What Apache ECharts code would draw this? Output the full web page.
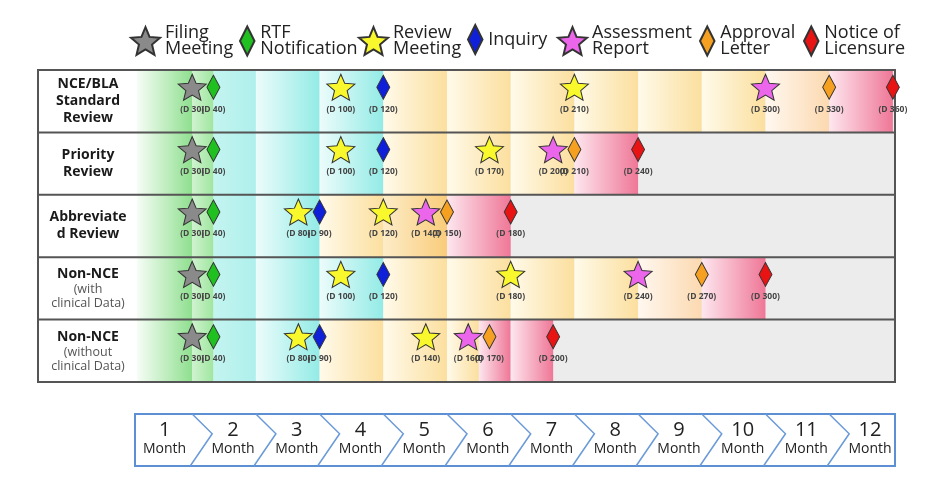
<!DOCTYPE html>
<html><head><meta charset="utf-8">
<script src="https://cdn.jsdelivr.net/npm/echarts@6/dist/echarts.min.js"></script>
<style>html,body{margin:0;padding:0;background:#fff}#c{width:936px;height:492px}</style>
</head><body><div id="c"></div>
<script>
// ---------------- data ----------------
const rowTitles = ['NCE/BLA\nStandard\nReview', 'Priority\nReview', 'Abbreviate\nd Review', 'Non-NCE', 'Non-NCE'];
const rowNotes  = ['', '', '', '(with\nclinical Data)', '(without\nclinical Data)'];

const milestoneNames = ['Filing\nMeeting', 'RTF\nNotification', 'Review\nMeeting', 'Inquiry', 'Assessment\nReport', 'Approval\nLetter', 'Notice of\nLicensure'];

// [day, row]
const filingMeeting     = [[30,0],[30,1],[30,2],[30,3],[30,4]];
const rtfNotification   = [[40,0],[40,1],[40,2],[40,3],[40,4]];
const reviewMeeting     = [[100,0],[210,0],[100,1],[170,1],[80,2],[120,2],[100,3],[180,3],[80,4],[140,4]];
const inquiry           = [[120,0],[120,1],[90,2],[120,3],[90,4]];
const assessmentReport  = [[300,0],[200,1],[140,2],[240,3],[160,4]];
const approvalLetter    = [[330,0],[210,1],[150,2],[270,3],[170,4]];
const noticeLicensure   = [[360,0],[240,1],[180,2],[300,3],[200,4]];

// background phase stripes per row (day boundaries) and their phase kind
const phaseBounds = [
  [0,30,40,60,90,120,150,180,210,240,270,300,330,360],
  [0,30,40,60,90,120,150,180,210,240],
  [0,30,40,60,90,120,150,180],
  [0,30,40,60,90,120,150,180,210,240,270,300],
  [0,30,40,60,90,120,150,165,180,200]
];
const phaseKinds = [
  ['filing','rtf','early','review','review','assess','assess','assess','assess','assess','assess','approval','notice'],
  ['filing','rtf','early','review','review','assess','assess','assess','notice'],
  ['filing','rtf','early','review','assess','approval2','notice'],
  ['filing','rtf','early','review','review','assess','assess','assess','assess','approval','notice'],
  ['filing','rtf','early','review','assess','assess','assess','notice','notice']
];

const monthNumbers = ['1','2','3','4','5','6','7','8','9','10','11','12'];
const monthStartDays = [0,30,60,90,120,150,180,210,240,270,300,330];
const monthEndDays   = [30,60,90,120,150,180,210,240,270,300,330,360];
const monthUnit = 'Month';

// ---------------- styles ----------------
const FONT = '"Open Sans", "Noto Sans", sans-serif';
const STAR = 'path://M50 0 L63.23 31.8 L97.55 34.55 L71.4 56.95 L79.39 90.45 L50 72.5 L20.61 90.45 L28.6 56.95 L2.45 34.55 L36.77 31.8 Z';
const DIAMOND = 'path://M50 0 L75 50 L50 100 L25 50 Z';
const kindList = ['filing','rtf','early','review','assess','approval','approval2','notice'];
const kindColors = {
  filing:   ['#f6fdf6', '#8fdf8f'],
  rtf:      ['#cff3cf', '#9fe69f'],
  early:    ['#c4f4f0', '#aef0ec'],
  review:   ['#ecfcfb', '#93ebe6'],
  assess:   ['#fffaea', '#fbdf9e'],
  approval: ['#fff8f0', '#fcd9b0'],
  approval2:['#fdecc8', '#f9cc7a'],
  notice:   ['#fde7ef', '#ef7797']
};
const markerStyles = [
  {symbol: STAR,    size: [28,26], color: '#8a8a8a', legendLeft: 130, legendW: 29},
  {symbol: DIAMOND, size: [13,24], color: '#20c020', legendLeft: 239, legendW: 16},
  {symbol: STAR,    size: [28,26], color: '#f8f82c', legendLeft: 358, legendW: 29},
  {symbol: DIAMOND, size: [13,24], color: '#1020d8', legendLeft: 467, legendW: 16},
  {symbol: STAR,    size: [28,26], color: '#ec66ec', legendLeft: 557, legendW: 29},
  {symbol: DIAMOND, size: [13,24], color: '#f5a020', legendLeft: 699, legendW: 16},
  {symbol: DIAMOND, size: [13,24], color: '#e81414', legendLeft: 803, legendW: 16}
];
const milestoneData = [filingMeeting, rtfNotification, reviewMeeting, inquiry, assessmentReport, approvalLetter, noticeLicensure];

// ---------------- build ----------------
const bandData = [];
phaseBounds.forEach((b, r) => {
  for (let i = 0; i < b.length - 1; i++) bandData.push([b[i], b[i+1], r, kindList.indexOf(phaseKinds[r][i])]);
});
const monthData = monthNumbers.map((m, i) => [monthStartDays[i], monthEndDays[i], i]);

const GRID_TOP = 70, GRID_H = 312, TABLE_L = 38, TABLE_R = 895;
const frame = [{type:'rect', z: 50, silent: true, shape:{x:TABLE_L, y:GRID_TOP, width:TABLE_R-TABLE_L, height:GRID_H}, style:{fill:'transparent', stroke:'#555', lineWidth:2}}];
for (let k = 1; k < rowTitles.length; k++) {
  const y = GRID_TOP + GRID_H * k / rowTitles.length;
  frame.push({type:'line', z: 50, silent: true, shape:{x1:TABLE_L, y1:y, x2:TABLE_R, y2:y}, style:{stroke:'#555', lineWidth:2}});
}

const series = [{
  type: 'custom', name: 'bands', xAxisIndex: 0, yAxisIndex: 0, z: 1, silent: true, clip: true,
  encode: {x: [0,1], y: 2},
  data: bandData,
  renderItem(params, api) {
    const cs = params.coordSys;
    const r = api.value(2);
    const p0 = api.coord([api.value(0), r]);
    const p1 = api.coord([api.value(1), r]);
    const h = api.size([0, 1])[1];
    const x0 = Math.max(p0[0], cs.x), x1 = Math.min(p1[0], cs.x + cs.width);
    const c = kindColors[kindList[api.value(3)]];
    return {type:'rect', shape:{x:x0, y:p0[1]-h/2, width:x1-x0, height:h},
      style:{fill: new echarts.graphic.LinearGradient(0,0,1,0,[{offset:0,color:c[0]},{offset:1,color:c[1]}])}};
  }
}, {
  type: 'custom', name: 'months', xAxisIndex: 1, yAxisIndex: 1, z: 1, silent: true,
  encode: {x: [0,1]},
  data: monthData,
  renderItem(params, api) {
    const cs = params.coordSys;
    const i = api.value(2);
    const xs = Math.max(api.coord([api.value(0), 0])[0], cs.x);
    const xe = Math.min(api.coord([api.value(1), 0])[0], cs.x + cs.width);
    const top = cs.y, bot = cs.y + cs.height;
    const ch = [];
    if (i === 0) ch.push({type:'rect', shape:{x:cs.x-2, y:top, width:cs.width+2, height:cs.height}, style:{fill:'#fff', stroke:'#5d8fd4', lineWidth:2}});
    if (i < monthNumbers.length - 1) ch.push({type:'polyline', shape:{points:[[xe, top],[xe+20, top+0.38*cs.height],[xe-2, bot]]}, style:{fill:null, stroke:'#6a9ad8', lineWidth:1.5}});
    const cx = (xs + xe) / 2 + (i > 0 ? 9 : 0);
    ch.push({type:'text', style:{text: monthNumbers[i], x:cx, y:top+16, align:'center', verticalAlign:'middle', fontSize:20, fontFamily:FONT, fill:'#222'}});
    ch.push({type:'text', style:{text: monthUnit, x:cx, y:top+35, align:'center', verticalAlign:'middle', fontSize:14, fontFamily:FONT, fill:'#222'}});
    return {type:'group', children: ch};
  }
}];

milestoneData.forEach((d, i) => {
  const m = markerStyles[i];
  series.push({
    type: 'scatter', name: milestoneNames[i], xAxisIndex: 0, yAxisIndex: 0, z: 60,
    data: d, symbol: m.symbol, symbolSize: m.size, symbolOffset: [0, -14],
    itemStyle: {color: m.color, borderColor: '#333', borderWidth: 1, opacity: 1},
    label: {show: true, position: 'inside', offset: [0, 22], formatter: p => '(D ' + p.value[0] + ')',
      fontSize: 8.5, fontWeight: 'bold', color: '#444', fontFamily: FONT},
    emphasis: {disabled: true}
  });
});

const legends = milestoneNames.map((n, i) => ({
  data: [{name: n, icon: markerStyles[i].symbol}],
  left: markerStyles[i].legendLeft, top: 24,
  itemWidth: markerStyles[i].legendW, itemHeight: 29, itemGap: 0, selectedMode: false, padding: 0,
  textStyle: {fontSize: 18, lineHeight: 16, color: '#222', fontFamily: FONT}
}));

const option = {
  animation: false,
  backgroundColor: '#fff',
  textStyle: {fontFamily: FONT},
  legend: legends,
  grid: [
    {left: 137, right: 936 - TABLE_R, top: GRID_TOP, height: GRID_H, show: true, backgroundColor: '#ececec', borderWidth: 0},
    {left: 137, right: 936 - TABLE_R, top: 414, height: 52}
  ],
  xAxis: [
    {type: 'value', gridIndex: 0, min: 4, max: 361, show: false},
    {type: 'value', gridIndex: 1, min: 4, max: 361, show: false}
  ],
  yAxis: [
    {type: 'category', gridIndex: 0, data: rowTitles, inverse: true,
      axisLine: {show: false}, axisTick: {show: false}, splitLine: {show: false},
      axisLabel: {margin: 49, align: 'center',
        formatter: (v, idx) => {
          const lines = v.split('\n').map(l => '{b|' + l + '}');
          if (rowNotes[idx]) rowNotes[idx].split('\n').forEach(l => lines.push('{s|' + l + '}'));
          return lines.join('\n');
        },
        rich: {
          b: {fontSize: 14, fontWeight: 'bold', color: '#1a1a1a', lineHeight: 17, fontFamily: FONT},
          s: {fontSize: 12.5, color: '#555', lineHeight: 14, fontFamily: FONT}
        }}},
    {type: 'value', gridIndex: 1, min: 0, max: 1, show: false}
  ],
  graphic: {elements: frame},
  series
};
const chart = echarts.init(document.getElementById('c'), null, {renderer: 'canvas'});
chart.setOption(option);
</script></body></html>
